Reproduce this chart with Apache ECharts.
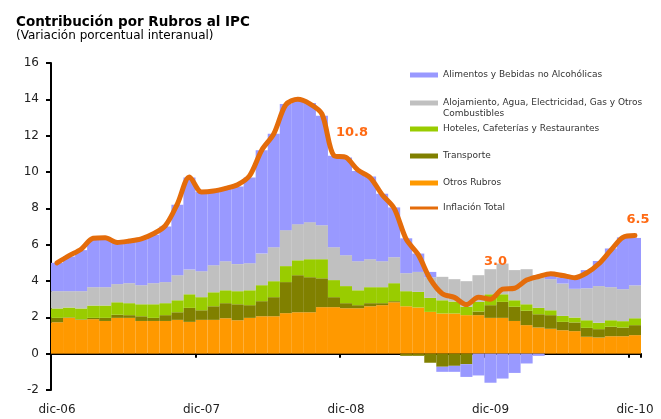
<!DOCTYPE html>
<html>
<head>
<meta charset="utf-8">
<script src="https://cdn.jsdelivr.net/npm/echarts@6/dist/echarts.min.js"></script>
<style>
  html, body { margin: 0; padding: 0; background: #fff; }
  #chart { width: 661px; height: 419px; }
</style>
</head>
<body>
<div id="chart"></div>
<script>
// meses dic-06 .. dic-10
const categories = [
  'dic-06',
  'ene-07','feb-07','mar-07','abr-07','may-07','jun-07','jul-07','ago-07','sep-07','oct-07','nov-07','dic-07',
  'ene-08','feb-08','mar-08','abr-08','may-08','jun-08','jul-08','ago-08','sep-08','oct-08','nov-08','dic-08',
  'ene-09','feb-09','mar-09','abr-09','may-09','jun-09','jul-09','ago-09','sep-09','oct-09','nov-09','dic-09',
  'ene-10','feb-10','mar-10','abr-10','may-10','jun-10','jul-10','ago-10','sep-10','oct-10','nov-10','dic-10'
];

// contribuciones (puntos porcentuales)
const otrosRubros = [1.73,1.97,1.86,1.9,1.8,1.97,1.97,1.8,1.8,1.8,1.86,1.75,1.86,1.86,1.95,1.84,1.97,2.06,2.06,2.23,2.28,2.28,2.56,2.56,2.5,2.5,2.61,2.67,2.83,2.61,2.54,2.3,2.21,2.21,2.12,2.12,1.97,1.97,1.8,1.57,1.44,1.37,1.29,1.24,0.93,0.89,0.96,0.96,1.02];
const transporte = [0.24,0.03,0.03,0.07,0.17,0.17,0.15,0.26,0.17,0.32,0.42,0.77,0.53,0.75,0.83,0.88,0.7,0.83,1.05,1.71,2.04,1.93,1.59,0.55,0.28,0.17,0.17,0.11,0.06,-0.12,-0.12,-0.5,-0.72,-0.67,-0.58,0.2,0.7,0.88,0.78,0.79,0.73,0.75,0.46,0.48,0.49,0.46,0.52,0.48,0.55];
const hoteles = [0.52,0.54,0.6,0.68,0.68,0.69,0.66,0.66,0.75,0.66,0.66,0.75,0.72,0.77,0.71,0.72,0.82,0.88,0.88,0.88,0.82,0.99,1.05,0.94,0.94,0.82,0.88,0.88,0.99,0.83,0.86,0.77,0.73,0.66,0.46,0.53,0.6,0.42,0.36,0.36,0.35,0.27,0.33,0.27,0.42,0.35,0.36,0.35,0.38];
const alojamiento = [0.95,0.9,0.95,1.01,1.01,1.0,1.1,1.05,1.16,1.16,1.38,1.36,1.43,1.49,1.6,1.49,1.49,1.74,1.87,1.98,1.99,2.04,1.87,1.81,1.7,1.6,1.54,1.43,1.43,0.99,1.1,1.13,1.29,1.23,1.41,1.47,1.38,1.69,1.66,1.93,1.8,1.71,1.78,1.58,1.76,2.02,1.82,1.76,1.81];
const alimentos = [1.56,1.91,2.26,2.64,2.69,2.27,2.27,2.53,2.67,3.06,3.88,5.07,4.36,4.08,4.01,4.27,4.72,5.69,6.24,6.95,6.87,6.56,6.03,5.04,5.38,4.96,4.55,3.71,2.74,1.92,1.01,0.3,-0.28,-0.33,-0.7,-1.2,-1.6,-1.37,-1.06,-0.54,-0.12,0.3,0.34,0.58,1.0,1.38,2.13,2.85,2.61];
const inflacionTotal = [5.0,5.4,5.75,6.35,6.38,6.12,6.2,6.32,6.6,7.05,8.25,9.73,8.9,8.95,9.1,9.3,9.8,11.2,12.1,13.7,14.0,13.75,13.2,10.9,10.8,10.1,9.7,8.75,8.0,6.3,5.45,4.1,3.3,3.1,2.7,3.1,3.0,3.55,3.6,4.05,4.25,4.4,4.3,4.18,4.45,4.95,5.7,6.4,6.5];

// meses con el valor escrito (dic-08, dic-09, dic-10)
const labelIdx = [24, 36, 48];
const labelOffset = [[6, -25], [5, -38], [3, -16]];

const yTicks = { min: -2, max: 16, interval: 2 };

const FONT = 'DejaVu Sans';

const names = [
  'Alimentos y Bebidas no Alcohólicas',
  'Alojamiento, Agua, Electricidad, Gas y Otros Combustibles',
  'Hoteles, Cafeterías y Restaurantes',
  'Transporte',
  'Otros Rubros',
  'Inflación Total'
];
const colors = ['#9999FF', '#C0C0C0', '#99CC00', '#808000', '#FF9900', '#E46C0A'];
const legendY = [75, 103, 129, 156, 183, 208];

let myChart = echarts.init(document.getElementById('chart'));

function barSeries(name, data, color) {
  return {
    name: name,
    type: 'bar',
    stack: 'ipc',
    barCategoryGap: '0%',
    itemStyle: { color: color },
    emphasis: { disabled: true },
    data: data
  };
}

// una leyenda por rubro para controlar la posicion de cada uno
const legends = names.map(function (n, i) {
  const isLine = i === 5;
  const twoLines = i === 1;
  return {
    data: [n],
    orient: 'vertical',
    left: 410,
    // el texto de dos lineas lleva una linea vacia arriba para que el icono quede en la primera
    top: twoLines ? legendY[i] - 16.5 : legendY[i] - 5.5,
    padding: 0,
    icon: 'rect',
    itemWidth: 28,
    itemHeight: isLine ? 3 : 5,
    selectedMode: false,
    formatter: function (name) {
      return name === names[1]
        ? ' \nAlojamiento, Agua, Electricidad, Gas y Otros\nCombustibles'
        : name;
    },
    textStyle: { fontFamily: FONT, fontSize: 9, lineHeight: 11, color: '#333' }
  };
});

myChart.setOption({
  animation: false,
  backgroundColor: '#fff',
  title: [
    {
      text: 'Contribución por Rubros al IPC',
      left: 16, top: 14, padding: 0,
      textStyle: { fontFamily: FONT, fontSize: 13.5, fontWeight: 'bold', color: '#000', lineHeight: 16 }
    },
    {
      text: '(Variación porcentual interanual)',
      left: 16, top: 28, padding: 0,
      textStyle: { fontFamily: FONT, fontSize: 12, fontWeight: 'normal', color: '#000', lineHeight: 16 }
    }
  ],
  legend: legends,
  grid: { left: 51, right: 20, top: 63, bottom: 29 },
  xAxis: [
    {
      type: 'category',
      data: categories,
      boundaryGap: true,
      axisLine: { onZero: true, lineStyle: { color: '#000', width: 2 } },
      axisTick: { show: true, interval: 11, length: 4, lineStyle: { color: '#000', width: 2 } },
      axisLabel: { show: false }
    },
    {
      type: 'category',
      data: categories,
      position: 'bottom',
      boundaryGap: true,
      axisLine: { show: false, onZero: false },
      axisTick: { show: false },
      axisLabel: { interval: 11, margin: 14, fontFamily: FONT, fontSize: 12, color: '#222' }
    }
  ],
  yAxis: {
    type: 'value',
    min: yTicks.min,
    max: yTicks.max,
    interval: yTicks.interval,
    splitLine: { show: false },
    axisLine: { show: true, lineStyle: { color: '#000', width: 2 } },
    axisTick: { show: true, length: 5, lineStyle: { color: '#000', width: 2 } },
    axisLabel: { margin: 12, fontFamily: FONT, fontSize: 12, color: '#222' }
  },
  series: [
    barSeries(names[4], otrosRubros, colors[4]),
    barSeries(names[3], transporte, colors[3]),
    barSeries(names[2], hoteles, colors[2]),
    barSeries(names[1], alojamiento, colors[1]),
    barSeries(names[0], alimentos, colors[0]),
    {
      name: names[5],
      type: 'line',
      data: inflacionTotal,
      smooth: 0.3,
      symbol: 'none',
      itemStyle: { color: colors[5] },
      lineStyle: { color: colors[5], width: 5, cap: 'round', join: 'round' },
      emphasis: { disabled: true },
      z: 5,
      markPoint: {
        symbol: 'circle',
        symbolSize: 0,
        data: labelIdx.map(function (idx, k) {
          return {
            coord: [categories[idx], inflacionTotal[idx]],
            value: inflacionTotal[idx].toFixed(1),
            label: { offset: labelOffset[k] }
          };
        }),
        label: {
          show: true,
          position: 'inside',
          formatter: '{c}',
          fontFamily: FONT,
          fontSize: 13,
          fontWeight: 'bold',
          color: '#FF6A13'
        }
      }
    }
  ]
});
</script>
</body>
</html>
